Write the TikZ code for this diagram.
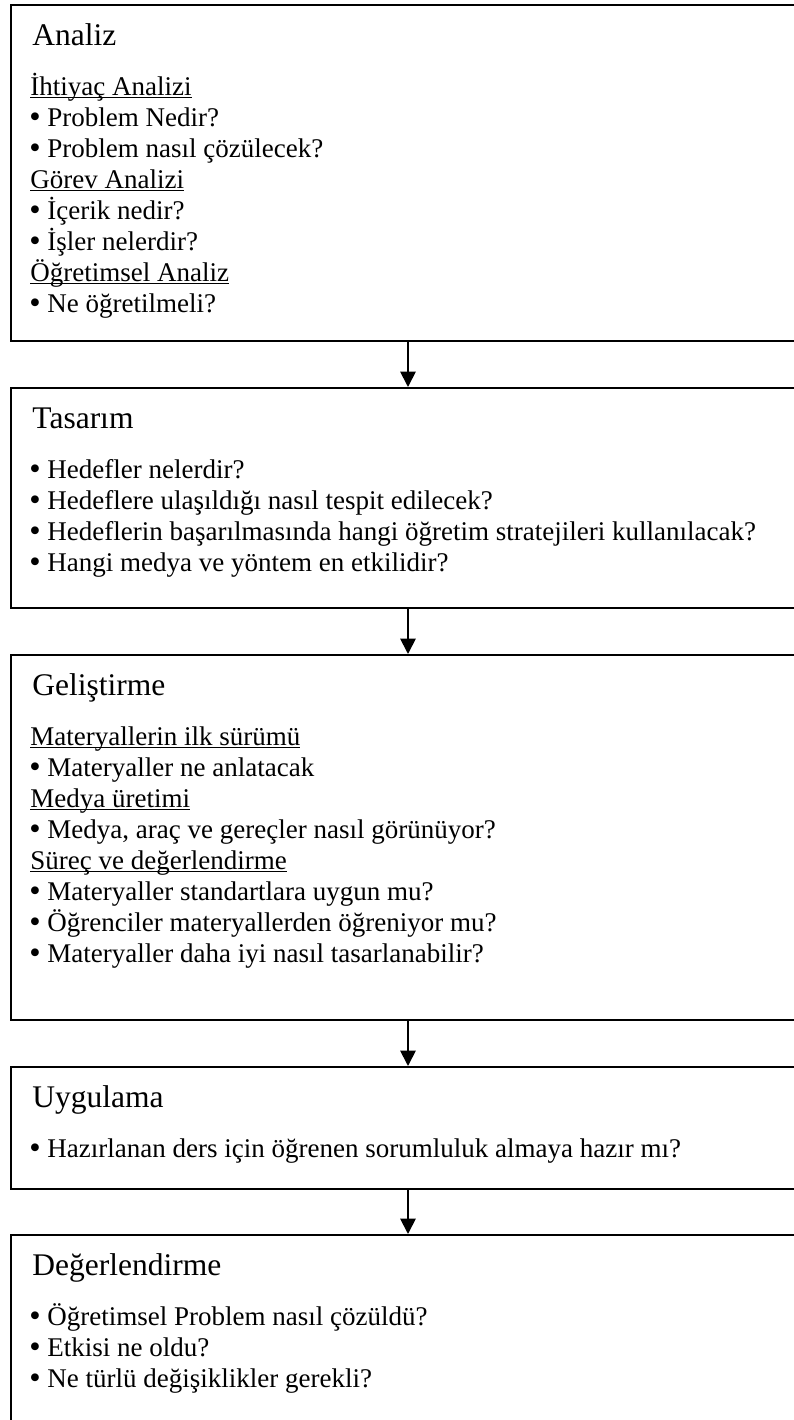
\documentclass[tikz,border=0pt]{standalone}
\usepackage{fontspec}
\usepackage{graphicx}
\setmainfont{Liberation Serif}
\usetikzlibrary{positioning,arrows.meta,fit}

\newcommand\bodyfont{\fontsize{12}{13.8}\selectfont}
\newcommand\titlefont{\fontsize{14}{16}\selectfont}
% underlined sub-heading, rule just under the baseline
\newcommand\hd[1]{\setbox0=\hbox{#1}\rlap{\rule[-1.3pt]{\wd0}{0.6pt}}\box0}
% bulleted line
\newcommand\bl[1]{\hspace*{7.56pt}\llap{\raisebox{-0.6pt}{\scalebox{1.2}{\textbullet}}\hspace{3pt}}#1}

\begin{document}
\begin{tikzpicture}[
  x=0.4444pt, y=-0.4444pt,
  phase/.style={draw, line width=0.9pt, inner sep=0pt},
  title/.style={anchor=base west, inner sep=0pt, font=\titlefont},
  line/.style={anchor=base west, inner sep=0pt, font=\bodyfont},
  >={Triangle[width=6.8pt,length=6.8pt]}
]
  \clip (0,0) rectangle (794,1420);

  % Phases
  \node[phase, fit={(11,5) (805,341)}] (analiz) {};
  \node[phase, fit={(11,388) (805,608)}] (tasarim) {};
  \node[phase, fit={(11,655) (805,1020)}] (gelistirme) {};
  \node[phase, fit={(11,1067) (805,1189)}] (uygulama) {};
  \node[phase, fit={(11,1235) (805,1470)}] (degerlendirme) {};

  % Analiz
  \node[title] (analiz-t) at (32,45) {Analiz};
  \foreach \txt [count=\i] in {\hd{İhtiyaç Analizi}, \bl{Problem Nedir?}, \bl{Problem nasıl çözülecek?},
      \hd{Görev Analizi}, \bl{İçerik nedir?}, \bl{İşler nelerdir?},
      \hd{Öğretimsel Analiz}, \bl{Ne öğretilmeli?}} {
    \node[line] (an\i) at (30,{64+31*\i}) {\txt};
  }

  % Tasarim
  \node[title] (tasarim-t) at (32,428) {Tasarım};
  \foreach \txt [count=\i] in {\bl{Hedefler nelerdir?}, \bl{Hedeflere ulaşıldığı nasıl tespit edilecek?},
      \bl{Hedeflerin başarılmasında hangi öğretim stratejileri kullanılacak?},
      \bl{Hangi medya ve yöntem en etkilidir?}} {
    \node[line] (ta\i) at (30,{447+31*\i}) {\txt};
  }

  % Gelistirme
  \node[title] (gelistirme-t) at (32,695) {Geliştirme};
  \foreach \txt [count=\i] in {\hd{Materyallerin ilk sürümü}, \bl{Materyaller ne anlatacak},
      \hd{Medya üretimi}, {\bl{Medya, araç ve gereçler nasıl görünüyor?}},
      \hd{Süreç ve değerlendirme}, \bl{Materyaller standartlara uygun mu?},
      \bl{Öğrenciler materyallerden öğreniyor mu?}, \bl{Materyaller daha iyi nasıl tasarlanabilir?}} {
    \node[line] (ge\i) at (30,{714+31*\i}) {\txt};
  }

  % Uygulama
  \node[title] (uygulama-t) at (32,1107) {Uygulama};
  \node[line] (uy1) at (30,1157) {\bl{Hazırlanan ders için öğrenen sorumluluk almaya hazır mı?}};

  % Degerlendirme
  \node[title] (degerlendirme-t) at (32,1275) {Değerlendirme};
  \foreach \txt [count=\i] in {\bl{Öğretimsel Problem nasıl çözüldü?}, \bl{Etkisi ne oldu?},
      \bl{Ne türlü değişiklikler gerekli?}} {
    \node[line] (de\i) at (30,{1294+31*\i}) {\txt};
  }

  % Flow
  \foreach \a/\b in {analiz/tasarim, tasarim/gelistirme, gelistirme/uygulama, uygulama/degerlendirme}
    \draw[->, line width=0.8pt] (\a) -- (\b);
\end{tikzpicture}
\end{document}
